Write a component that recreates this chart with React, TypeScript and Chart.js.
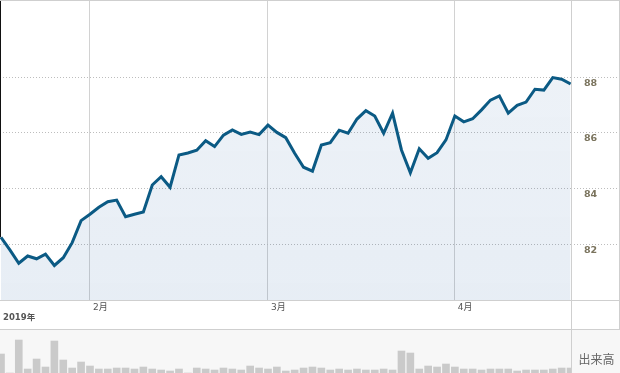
import React, { useEffect, useRef } from 'react';
import { Chart, registerables } from 'chart.js';

Chart.register(...registerables);

// ---- data ----
const priceValues = [
  82.25, 81.8, 81.32, 81.58, 81.48, 81.65, 81.24, 81.52, 82.06, 82.85,
  83.08, 83.33, 83.53, 83.59, 82.99, 83.08, 83.16, 84.13, 84.43, 84.05,
  85.21, 85.28, 85.38, 85.72, 85.51, 85.92, 86.11, 85.95, 86.03, 85.94,
  86.28, 86.02, 85.83, 85.27, 84.77,
  84.63, 85.57, 85.65, 86.1, 85.99, 86.5, 86.8, 86.61, 85.99, 86.71,
  85.39, 84.57, 85.43, 85.09, 85.29, 85.75, 86.61, 86.4, 86.51, 86.83,
  87.18, 87.33, 86.71, 86.99, 87.11, 87.57, 87.54, 87.99, 87.93, 87.76,
];
const volumeValues = [
  190, 0, 330, 40, 140, 60, 320, 130, 50, 110,
  70, 40, 40, 50, 50, 40, 60, 40, 30, 20,
  40, 0, 50, 40, 30, 50, 40, 30, 70, 50,
  40, 60, 20, 30, 50,
  60, 50, 30, 40, 30, 40, 30, 30, 40, 30,
  220, 200, 40, 70, 60, 90, 60, 40, 40, 30,
  40, 40, 40, 20, 30, 30, 30, 40, 50, 50,
];
const monthTickIndex = [10, 30, 51];
const monthLabels = ['2月', '3月', '4月'];
const yearLabel = '2019年';
const priceTicks = [82, 84, 86, 88];
const volumeLabel = '出来高';

const X_MIN = -0.11;
const X_MAX = 64.05;
const FONT = '"DejaVu Sans", "Noto Sans CJK JP", sans-serif';
const FRAME = '#cfcfcf';

function line(ctx: CanvasRenderingContext2D, x1: number, y1: number, x2: number, y2: number, color: string) {
  ctx.save();
  ctx.strokeStyle = color;
  ctx.lineWidth = 1;
  ctx.setLineDash([]);
  ctx.beginPath();
  ctx.moveTo(x1, y1);
  ctx.lineTo(x2, y2);
  ctx.stroke();
  ctx.restore();
}

const priceFramePlugin = {
  id: 'priceFrame',
  beforeDatasetsDraw(chart: any) {
    const { ctx, chartArea, scales } = chart;
    const y0 = scales.y.getPixelForValue(priceValues[0]);
    line(ctx, chartArea.left + 0.5, chartArea.top, chartArea.left + 0.5, y0, '#111');
  },
  afterDraw(chart: any) {
    const { ctx, chartArea, width, height, scales } = chart;
    line(ctx, 0, 0.5, width, 0.5, FRAME);
    line(ctx, 0, Math.round(chartArea.bottom) + 0.5, width, Math.round(chartArea.bottom) + 0.5, FRAME);
    line(ctx, Math.round(chartArea.right) + 0.5, 0, Math.round(chartArea.right) + 0.5, height, FRAME);
    line(ctx, width - 0.5, 0, width - 0.5, height, FRAME);
    ctx.save();
    ctx.fillStyle = '#555';
    ctx.font = 'bold 8.5px ' + FONT;
    ctx.textAlign = 'left';
    ctx.textBaseline = 'middle';
    ctx.fillText(yearLabel, scales.x.left + 3, scales.x.bottom - 11);
    ctx.restore();
  },
};

const volumeFramePlugin = {
  id: 'volumeFrame',
  afterDraw(chart: any) {
    const { ctx, chartArea, width, height } = chart;
    line(ctx, 0, 0.5, width, 0.5, FRAME);
    line(ctx, Math.round(chartArea.right) + 0.5, 0, Math.round(chartArea.right) + 0.5, height, FRAME);
    ctx.save();
    ctx.fillStyle = '#666';
    ctx.font = '12px ' + FONT;
    ctx.textAlign = 'center';
    ctx.textBaseline = 'middle';
    ctx.fillText(volumeLabel, (chartArea.right + width) / 2 + 1, 32);
    ctx.restore();
  },
};

export default function App() {
  const priceRef = useRef<HTMLCanvasElement>(null);
  const volRef = useRef<HTMLCanvasElement>(null);

  useEffect(() => {
    const priceChart = new Chart(priceRef.current as HTMLCanvasElement, {
      type: 'line',
      data: {
        datasets: [
          {
            data: priceValues.map((v, i) => ({ x: i, y: v })),
            borderColor: '#0b5a84',
            borderWidth: 3,
            pointRadius: 0,
            tension: 0,
            fill: 'start',
            backgroundColor: (c: any) => {
              const ca = c.chart.chartArea;
              if (!ca) return 'rgba(30,90,160,0.09)';
              const g = c.chart.ctx.createLinearGradient(0, ca.top, 0, ca.bottom);
              g.addColorStop(0, 'rgba(30,90,160,0.07)');
              g.addColorStop(1, 'rgba(30,90,160,0.105)');
              return g;
            },
          },
        ],
      },
      options: {
        animation: false,
        responsive: false,
        events: [],
        layout: { padding: { top: 1, left: 0, right: 1, bottom: 0 } },
        plugins: { legend: { display: false }, tooltip: { enabled: false } },
        scales: {
          x: {
            type: 'linear',
            min: X_MIN,
            max: X_MAX,
            afterBuildTicks: (s: any) => {
              s.ticks = monthTickIndex.map((v) => ({ value: v }));
            },
            afterFit: (s: any) => {
              s.height = 29;
            },
            grid: { color: '#d2d2d2', lineWidth: 1, drawTicks: false },
            border: { display: false },
            ticks: {
              autoSkip: false,
              maxRotation: 0,
              align: 'start',
              labelOffset: 3,
              padding: 2,
              color: '#555',
              font: { size: 9, family: FONT },
              callback: (v: any) => monthLabels[monthTickIndex.indexOf(Number(v))] ?? '',
            },
          },
          y: {
            position: 'right',
            min: 80,
            max: 90.74,
            afterBuildTicks: (s: any) => {
              s.ticks = priceTicks.map((v) => ({ value: v }));
            },
            afterFit: (s: any) => {
              s.width = 48;
            },
            grid: {
              color: '#bdbdbd',
              lineWidth: 1,
              drawTicks: true,
              tickLength: 47,
              tickColor: '#bdbdbd',
              tickBorderDash: [1, 2],
            },
            border: { display: false, dash: [1, 2] },
            ticks: {
              padding: -34,
              labelOffset: 6,
              color: '#7a735d',
              font: { size: 9.5, weight: 'bold', family: FONT },
              callback: (v: any) => String(v),
            },
          },
        },
      } as any,
      plugins: [priceFramePlugin],
    });

    const volChart = new Chart(volRef.current as HTMLCanvasElement, {
      type: 'bar',
      data: {
        datasets: [
          {
            data: volumeValues.map((v, i) => ({ x: i, y: v })),
            backgroundColor: '#cacaca',
            borderWidth: 0,
            barThickness: 7,
          },
        ],
      },
      options: {
        animation: false,
        responsive: false,
        events: [],
        layout: { padding: { top: 1, left: 0, right: 1, bottom: 0 } },
        plugins: { legend: { display: false }, tooltip: { enabled: false } },
        scales: {
          x: { type: 'linear', min: X_MIN, max: X_MAX, display: false, offset: false },
          y: {
            position: 'right',
            min: 0,
            max: 430,
            afterFit: (s: any) => {
              s.width = 48;
            },
            ticks: { display: false },
            grid: { display: false },
            border: { display: false },
          },
        },
      } as any,
      plugins: [volumeFramePlugin],
    });

    return () => {
      priceChart.destroy();
      volChart.destroy();
    };
  }, []);

  return (
    <div style={{ position: 'absolute', left: 0, top: 0, width: 620, height: 373, overflow: 'hidden', background: '#fff' }}>
      <canvas ref={priceRef} width={620} height={329} style={{ position: 'absolute', left: 0, top: 0, width: 620, height: 329 }} />
      <canvas ref={volRef} width={620} height={44} style={{ position: 'absolute', left: 0, top: 329, width: 620, height: 44, background: '#f7f7f7' }} />
    </div>
  );
}
